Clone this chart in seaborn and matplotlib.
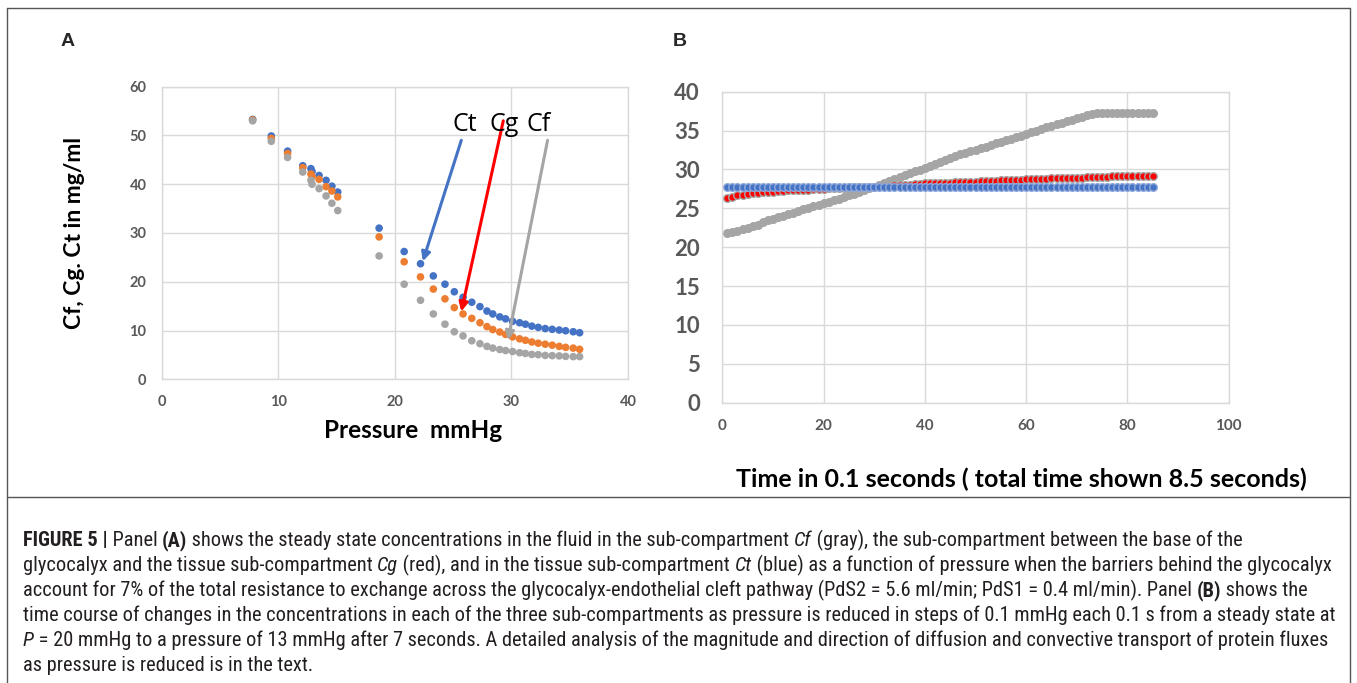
import matplotlib
matplotlib.use("Agg")
import matplotlib.pyplot as plt
import pandas as pd
import seaborn as sns

# ---- data, panel A (steady state vs pressure) ----
pressure = [7.8, 9.4, 10.8, 12.1, 12.8, 12.9, 13.5, 14.1, 14.6, 15.1,
            18.65, 20.8, 22.2, 23.3, 24.3, 25.1, 25.85, 26.6, 27.3, 27.9,
            28.4, 29.0, 29.5, 30.1, 30.7, 31.2, 31.75, 32.3, 32.9, 33.5,
            34.1, 34.65, 35.3, 35.85]
ct_a = [53.3, 49.9, 46.8, 43.8, 43.2, 42.6, 41.8, 40.8, 39.6, 38.4,
        31.0, 26.2, 23.7, 21.2, 19.5, 17.95, 16.8, 15.8, 14.9, 14.0,
        13.4, 12.8, 12.4, 11.9, 11.6, 11.3, 10.9, 10.65, 10.4, 10.25,
        10.1, 9.95, 9.75, 9.55]
cg_a = [53.2, 49.4, 46.3, 43.4, 42.1, 41.6, 41.0, 39.5, 38.6, 37.4,
        29.2, 24.1, 21.0, 18.5, 16.5, 14.7, 13.4, 12.5, 11.6, 10.8,
        10.2, 9.7, 9.2, 8.7, 8.3, 8.0, 7.65, 7.4, 7.2, 7.0,
        6.75, 6.55, 6.4, 6.15]
cf_a = [53.0, 48.8, 45.5, 42.5, 40.8, 40.0, 39.1, 37.6, 36.1, 34.6,
        25.3, 19.5, 16.2, 13.4, 11.3, 9.75, 8.9, 7.9, 7.3, 6.75,
        6.4, 6.1, 5.9, 5.7, 5.45, 5.3, 5.1, 5.05, 4.9, 4.85,
        4.8, 4.7, 4.65, 4.65]

# ---- data, panel B (time course, steps of 0.1 s) ----
time_b = list(range(1, 86))
cf_b = [21.8, 21.95, 22.1, 22.3, 22.5, 22.7, 22.9, 23.2, 23.45, 23.65,
        23.85, 24.05, 24.25, 24.45, 24.65, 24.85, 25.05, 25.25, 25.45, 25.65,
        25.85, 26.05, 26.25, 26.45, 26.65, 26.85, 27.1, 27.35, 27.55, 27.8,
        28.05, 28.3, 28.55, 28.8, 29.05, 29.3, 29.5, 29.75, 29.95, 30.2,
        30.45, 30.7, 30.95, 31.2, 31.45, 31.7, 31.95, 32.15, 32.35, 32.55,
        32.75, 32.95, 33.15, 33.35, 33.55, 33.75, 33.95, 34.15, 34.35, 34.6,
        34.8, 35.0, 35.2, 35.4, 35.6, 35.8, 36.0, 36.2, 36.4, 36.6,
        36.8, 36.95, 37.1, 37.2, 37.3, 37.3, 37.3, 37.3, 37.3, 37.3,
        37.3, 37.3, 37.3, 37.3, 37.3]
cg_b = [26.3, 26.5, 26.65, 26.75, 26.85, 26.95, 27.0, 27.05, 27.1, 27.15,
        27.2, 27.25, 27.3, 27.3, 27.35, 27.4, 27.4, 27.45, 27.5, 27.5,
        27.55, 27.6, 27.6, 27.65, 27.7, 27.7, 27.75, 27.75, 27.8, 27.8,
        27.85, 27.85, 27.9, 27.95, 27.95, 28.0, 28.05, 28.1, 28.15, 28.2,
        28.25, 28.25, 28.3, 28.3, 28.3, 28.35, 28.4, 28.4, 28.45, 28.45,
        28.5, 28.5, 28.5, 28.55, 28.6, 28.6, 28.65, 28.7, 28.7, 28.75,
        28.75, 28.8, 28.8, 28.8, 28.85, 28.85, 28.9, 28.9, 28.9, 28.95,
        28.95, 29.0, 29.0, 29.0, 29.0, 29.05, 29.1, 29.1, 29.1, 29.1,
        29.1, 29.1, 29.1, 29.1, 29.1]
ct_b = [27.8, 27.8, 27.8, 27.8, 27.8, 27.8, 27.8, 27.8, 27.8, 27.8,
        27.8, 27.8, 27.8, 27.8, 27.8, 27.8, 27.8, 27.8, 27.8, 27.8,
        27.8, 27.8, 27.8, 27.8, 27.8, 27.8, 27.8, 27.8, 27.8, 27.8,
        27.8, 27.8, 27.8, 27.8, 27.8, 27.8, 27.8, 27.8, 27.8, 27.8,
        27.8, 27.8, 27.8, 27.8, 27.8, 27.8, 27.8, 27.8, 27.8, 27.8,
        27.8, 27.8, 27.8, 27.8, 27.8, 27.8, 27.8, 27.8, 27.8, 27.8,
        27.8, 27.8, 27.8, 27.8, 27.8, 27.8, 27.8, 27.8, 27.8, 27.8,
        27.8, 27.8, 27.8, 27.8, 27.8, 27.8, 27.8, 27.8, 27.8, 27.8,
        27.8, 27.8, 27.8, 27.8, 27.8]

BLUE, ORANGE, GRAY, RED = "#4472C4", "#ED7D31", "#A5A5A5", "#FF0000"
GRID = "#D9D9D9"
TICK = "#595959"

sns.set_theme(style="whitegrid")
plt.rcParams["font.family"] = ["Lato", "DejaVu Sans"]

W, H = 1357, 683
fig = plt.figure(figsize=(W / 100, H / 100), dpi=100)


def px_axes(x0, y0, x1, y1):
    # axes from pixel box (top-left origin)
    return fig.add_axes([x0 / W, 1 - y1 / H, (x1 - x0) / W, (y1 - y0) / H])


def style_axes(ax):
    ax.grid(True, color=GRID, lw=1.0)
    for sp in ax.spines.values():
        sp.set_color(GRID)
        sp.set_linewidth(1.0)
    ax.tick_params(length=0)
    ax.set_facecolor("white")


# ---------------- panel A ----------------
axA = px_axes(161.7, 86.7, 628, 379.3)
dfA = pd.DataFrame({
    "P": pressure * 3,
    "C": ct_a + cg_a + cf_a,
    "comp": ["Ct"] * len(ct_a) + ["Cg"] * len(cg_a) + ["Cf"] * len(cf_a),
})
sns.scatterplot(data=dfA, x="P", y="C", hue="comp",
                palette={"Ct": BLUE, "Cg": ORANGE, "Cf": GRAY},
                s=30, linewidth=0, legend=False, ax=axA)
axA.set_xlim(0, 40)
axA.set_ylim(0, 60)
axA.set_xticks(range(0, 41, 10))
axA.set_yticks(range(0, 61, 10))
style_axes(axA)
axA.tick_params(axis="both", labelsize=10.5, labelcolor=TICK, pad=11)
for lab in axA.get_xticklabels() + axA.get_yticklabels():
    lab.set_fontweight("bold")
axA.set_xlabel("Pressure  mmHg", fontsize=17.5, fontweight="bold", color="black")
axA.xaxis.set_label_coords(0.54, -0.135)
axA.set_ylabel("Cf, Cg. Ct in mg/ml", fontsize=16.5, fontweight="bold",
               color="black", labelpad=32)

# labels with arrows
for name, tx, (x0, y0), (x1, y1), col in [
    ("Ct", 26.0, (25.7, 49.0), (22.4, 24.2), BLUE),
    ("Cg", 29.4, (29.3, 53.0), (25.7, 13.9), RED),
    ("Cf", 32.3, (33.1, 49.0), (29.7, 8.0), GRAY),
]:
    axA.annotate("", xy=(x1, y1), xytext=(x0, y0),
                 arrowprops=dict(arrowstyle="-|>", color=col, lw=2.2,
                                 mutation_scale=13, shrinkA=0, shrinkB=0))
    axA.text(tx, 52.3, name, fontsize=18, color="black",
             ha="center", va="center", family=["Open Sans", "DejaVu Sans"])

# ---------------- panel B ----------------
axB = px_axes(722.3, 91.7, 1228.7, 402.7)
for vals, face, edge in [(cf_b, GRAY, GRAY), (cg_b, RED, GRAY), (ct_b, BLUE, "#8FA9DC")]:
    sns.scatterplot(x=time_b, y=vals, color=face, edgecolor=edge,
                    linewidth=1.0, s=30, ax=axB)
axB.set_xlim(0, 100)
axB.set_ylim(0, 40)
axB.set_xticks(range(0, 101, 20))
axB.set_yticks(range(0, 41, 5))
style_axes(axB)
axB.tick_params(axis="x", labelsize=11, labelcolor=TICK, pad=12)
axB.tick_params(axis="y", labelsize=16, labelcolor=TICK, pad=16)
for lab in axB.get_xticklabels() + axB.get_yticklabels():
    lab.set_fontweight("bold")
axB.set_xlabel("Time in 0.1 seconds ( total time shown 8.5 seconds)",
               fontsize=18, fontweight="bold", color="black")
axB.xaxis.set_label_coords(0.59, -0.21)

# panel letters
fig.text(68 / W, 1 - 42 / H, "A", fontsize=14, fontweight="bold",
         ha="center", va="center", family=["Liberation Sans", "DejaVu Sans"])
fig.text(680 / W, 1 - 42 / H, "B", fontsize=14, fontweight="bold",
         ha="center", va="center", family=["Liberation Sans", "DejaVu Sans"])

# frame around figure + caption separator
fig.add_artist(plt.Line2D([7 / W, 7 / W], [0, 1 - 8 / H], color="#555555", lw=1.0))
fig.add_artist(plt.Line2D([1350 / W, 1350 / W], [0, 1 - 8 / H], color="#555555", lw=1.0))
fig.add_artist(plt.Line2D([7 / W, 1350 / W], [1 - 8 / H, 1 - 8 / H], color="#555555", lw=1.0))
fig.add_artist(plt.Line2D([7 / W, 1350 / W], [1 - 497 / H, 1 - 497 / H], color="#555555", lw=1.0))

# ---------------- caption ----------------
CAP_FONT = ["Liberation Sans Narrow", "Roboto Condensed", "DejaVu Sans Condensed",
            "Liberation Sans"]
CAP_COLOR = "#231F20"
cap_lines = [
    [("FIGURE 5 |", "b"), (" Panel ", "n"), ("(A)", "b"),
     (" shows the steady state concentrations in the fluid in the sub-compartment ", "n"),
     ("Cf", "i"), (" (gray), the sub-compartment between the base of the", "n")],
    [("glycocalyx and the tissue sub-compartment ", "n"), ("Cg", "i"),
     (" (red), and in the tissue sub-compartment ", "n"), ("Ct", "i"),
     (" (blue) as a function of pressure when the barriers behind the glycocalyx", "n")],
    [("account for 7% of the total resistance to exchange across the glycocalyx-endothelial cleft pathway (PdS2 = 5.6 ml/min; PdS1 = 0.4 ml/min). Panel ", "n"),
     ("(B)", "b"), (" shows the", "n")],
    [("time course of changes in the concentrations in each of the three sub-compartments as pressure is reduced in steps of 0.1 mmHg each 0.1 s from a steady state at", "n")],
    [("P", "i"), (" = 20 mmHg to a pressure of 13 mmHg after 7 seconds. A detailed analysis of the magnitude and direction of diffusion and convective transport of protein fluxes", "n")],
    [("as pressure is reduced is in the text.", "n")],
]
renderer = fig.canvas.get_renderer()

# pick a size so the longest line spans the same width as in the figure
probe = fig.text(0, 0, cap_lines[3][0][0], fontsize=10, family=CAP_FONT)
w10 = probe.get_window_extent(renderer).width
probe.remove()
cap_size = min(16, 10 * 1300 / w10)

for i, runs in enumerate(cap_lines):
    x = 23 / W
    y = 1 - (546 + 25 * i) / H
    for txt, st in runs:
        t = fig.text(x, y, txt, fontsize=cap_size, color=CAP_COLOR,
                     family=CAP_FONT, va="baseline", ha="left",
                     fontweight="bold" if st == "b" else "normal",
                     fontstyle="italic" if st == "i" else "normal")
        x += t.get_window_extent(renderer).width / W

fig.savefig("out.png", dpi=100)
